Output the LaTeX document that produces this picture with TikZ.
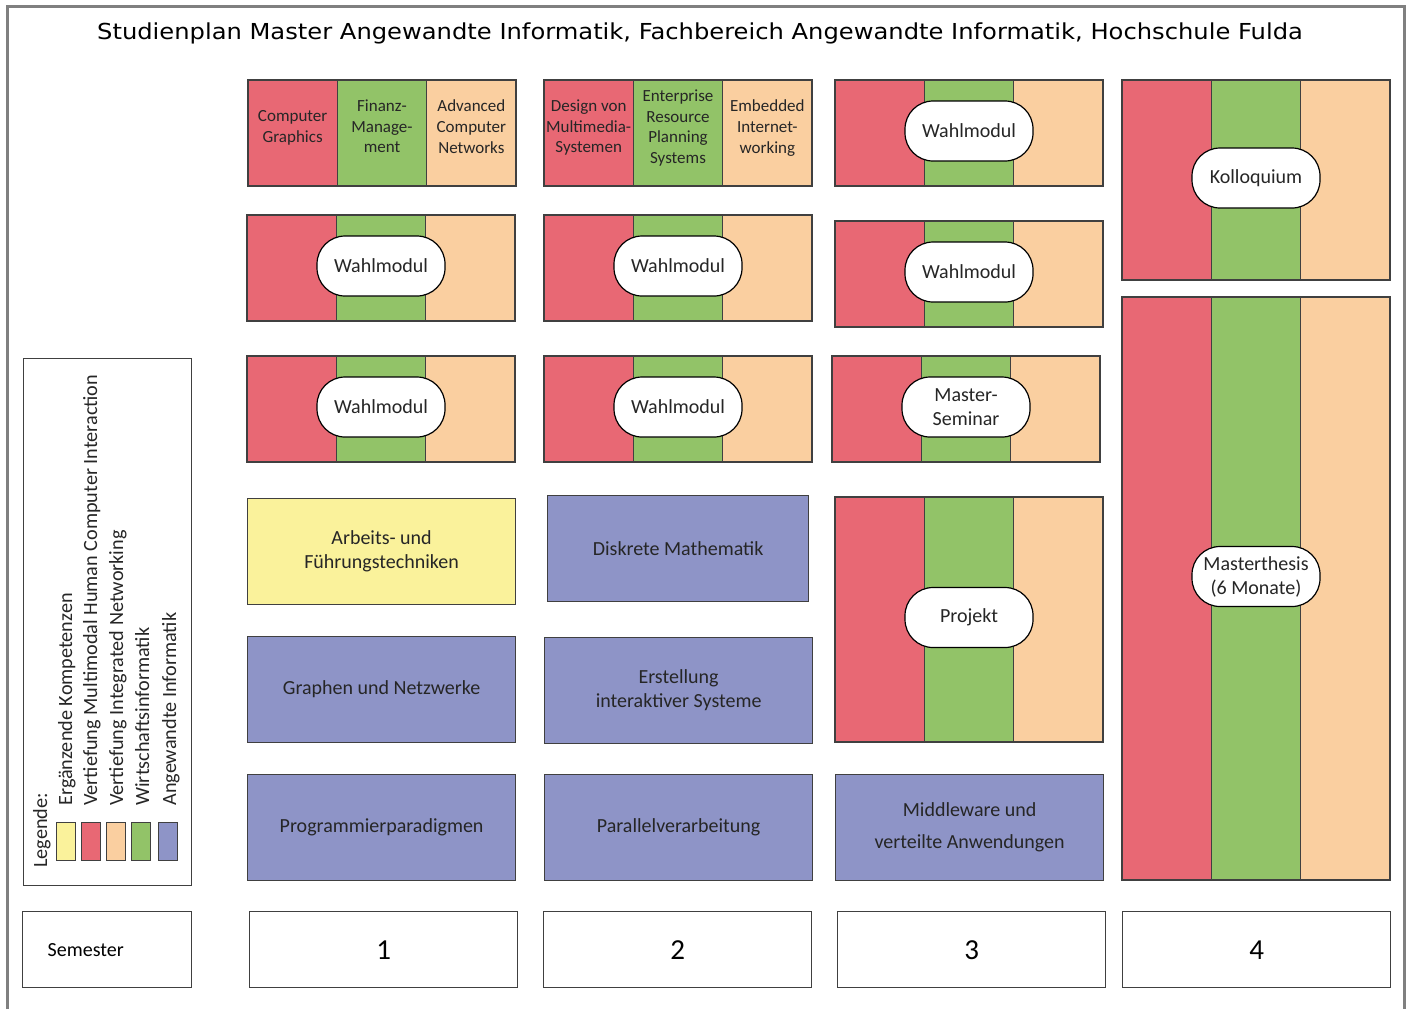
\documentclass[tikz,border=0pt]{standalone}
\usepackage{fontspec}
\setmainfont{Carlito}
\newfontfamily\titlefont[FakeStretch=1.1]{DejaVu Sans}
\usetikzlibrary{positioning}
\definecolor{trackRed}{RGB}{232,104,116}
\definecolor{trackGreen}{RGB}{146,195,104}
\definecolor{trackOrange}{RGB}{250,207,160}
\definecolor{compYellow}{RGB}{250,242,155}
\definecolor{coreBlue}{RGB}{142,148,199}
\colorlet{frameGray}{black!50}
\colorlet{boxLine}{black!75}
\colorlet{boxText}{black!85}
\tikzstyle{stripe}=[draw=boxLine,line width=.6pt,minimum width=44.67pt,inner sep=0pt,outer sep=0pt,anchor=north west,align=center,text=boxText,font=\fontsize{8.5}{10.3}\selectfont]
\tikzstyle{stripeRed}=[stripe,fill=trackRed]
\tikzstyle{stripeGreen}=[stripe,fill=trackGreen]
\tikzstyle{stripeOrange}=[stripe,fill=trackOrange]
\tikzstyle{stripeText}=[minimum height=53pt,text depth=6.5pt]
\tikzstyle{pill}=[draw=black,fill=white,line width=.6pt,rounded corners=14pt,minimum width=64pt,minimum height=30pt,inner sep=0pt,align=center,text=boxText,font=\fontsize{10}{12}\selectfont]
\tikzstyle{module}=[draw=boxLine,line width=.6pt,minimum width=134pt,minimum height=53pt,inner sep=0pt,anchor=north west,align=center,text=boxText,font=\fontsize{10}{12}\selectfont]
\tikzstyle{semBox}=[draw=boxLine,line width=.7pt,minimum width=134pt,minimum height=38pt,inner sep=0pt,anchor=north west,font=\fontsize{14.5}{16}\selectfont]
\tikzstyle{legendText}=[rotate=90,anchor=base west,inner sep=0pt,text=boxText,font=\fontsize{10.1}{12}\selectfont]
\tikzstyle{legendSwatch}=[draw=boxLine,line width=.6pt,minimum width=9.5pt,minimum height=19pt,inner sep=0pt,anchor=north west]

\begin{document}
\begin{tikzpicture}[x=0.5pt,y=-0.5pt]
\useasboundingbox (0,0) rectangle (1409,1009);
\draw[frameGray,line width=1.5pt] (7,1009) -- (7,6) -- (1404,6) -- (1404,1009);
\node[font=\titlefont\fontsize{11}{13}\selectfont] (title) at (700,33)
{Studienplan Master Angewandte Informatik, Fachbereich Angewandte Informatik, Hochschule Fulda};

% Vertiefungsmodule mit Texten
\node[stripeRed,stripeText] (cg-r) at (248,80) {Computer\\Graphics};
\node[stripeGreen,stripeText,right=0pt of cg-r] (cg-g) {Finanz-\\Manage-\\ment};
\node[stripeOrange,stripeText,right=0pt of cg-g] (cg-o) {Advanced\\Computer\\Networks};
\node[stripeRed,stripeText] (dm-r) at (544,80) {Design von\\Multimedia-\\Systemen};
\node[stripeGreen,stripeText,right=0pt of dm-r] (dm-g) {Enterprise\\Resource\\Planning\\Systems};
\node[stripeOrange,stripeText,right=0pt of dm-g] (dm-o) {Embedded\\Internet-\\working};

% Vertiefungsmodule ohne Texte
\foreach \name/\x/\y/\h in {wa/247/215/53, wb/247/356/53, wc/544/215/53, wd/544/356/53,
        we/835/80/53, wf/835/221/53, ms/832/356/53, pj/835/497/122.5,
        ko/1122/80/100, mt/1122/297/291.5} {
        \node[stripeRed,minimum height=\h pt] 
        (\name-r) at (\x,\y) {};
        \node[stripeGreen,minimum height=\h pt,right=0pt of \name-r] 
        (\name-g) {};
        \node[stripeOrange,minimum height=\h pt,right=0pt of \name-g] 
        (\name-o) {};
}
\foreach \name/\txt in {wa/Wahlmodul, wb/Wahlmodul, wc/Wahlmodul, wd/Wahlmodul,
        we/Wahlmodul, wf/Wahlmodul, ms/{Master-\\Seminar}, pj/Projekt, ko/Kolloquium} {
        \node[pill] (\name-pill) at ([yshift=1pt]\name-g) {\txt};
}
\node[pill] (mt-pill) at ([yshift=6pt]mt-g) {Masterthesis\\(6 Monate)};

% Pflichtmodule
\node[module,fill=compYellow] (afu) at (247,498) {Arbeits- und\\Führungstechniken};
\node[module,fill=coreBlue] (gun) at (247,636) {Graphen und Netzwerke};
\node[module,fill=coreBlue] (ppd) at (247,774) {Programmierparadigmen};
\node[module,fill=coreBlue,minimum width=130.5pt] (dma) at (547,495) {Diskrete Mathematik};
\node[module,fill=coreBlue] (eis) at (544,637) {Erstellung\\interaktiver Systeme};
\node[module,fill=coreBlue] (pva) at (544,774) {Parallelverarbeitung};
\node[module,fill=coreBlue,font=\fontsize{10}{16}\selectfont] (mva) at (835,774) {Middleware und\\verteilte Anwendungen};

% Semester
\node[semBox,minimum width=84.5pt,text width=59.5pt,inner xsep=12.5pt,align=left,font=\fontsize{10}{12}\selectfont] 
(semlabel) at (22,911) {Semester};
\foreach \n/\x in {1/249, 2/543, 3/837, 4/1122} {
        \node[semBox] (sem\n) at (\x,911) {\n};
}

% Legende
\node[draw=boxLine,line width=.7pt,minimum width=84pt,minimum height=263.5pt,inner sep=0pt,anchor=north west] 
(legend) at (23,358) {};
\node[legendText] (legTitle) at (47,868) {Legende:};
\foreach \t/\x [count=\i] in {Ergänzende Kompetenzen/72, Vertiefung Multimodal Human Computer Interaction/97,
        Vertiefung Integrated Networking/123, Wirtschaftsinformatik/149, Angewandte Informatik/176} {
        \node[legendText] (legText\i) at (\x,806) {\t};
}
\foreach \c/\x [count=\i] in {compYellow/56, trackRed/81, trackOrange/106, trackGreen/131, coreBlue/158} {
        \node[legendSwatch,fill=\c] (swatch\i) at (\x,822) {};
}
\end{tikzpicture}
\end{document}
